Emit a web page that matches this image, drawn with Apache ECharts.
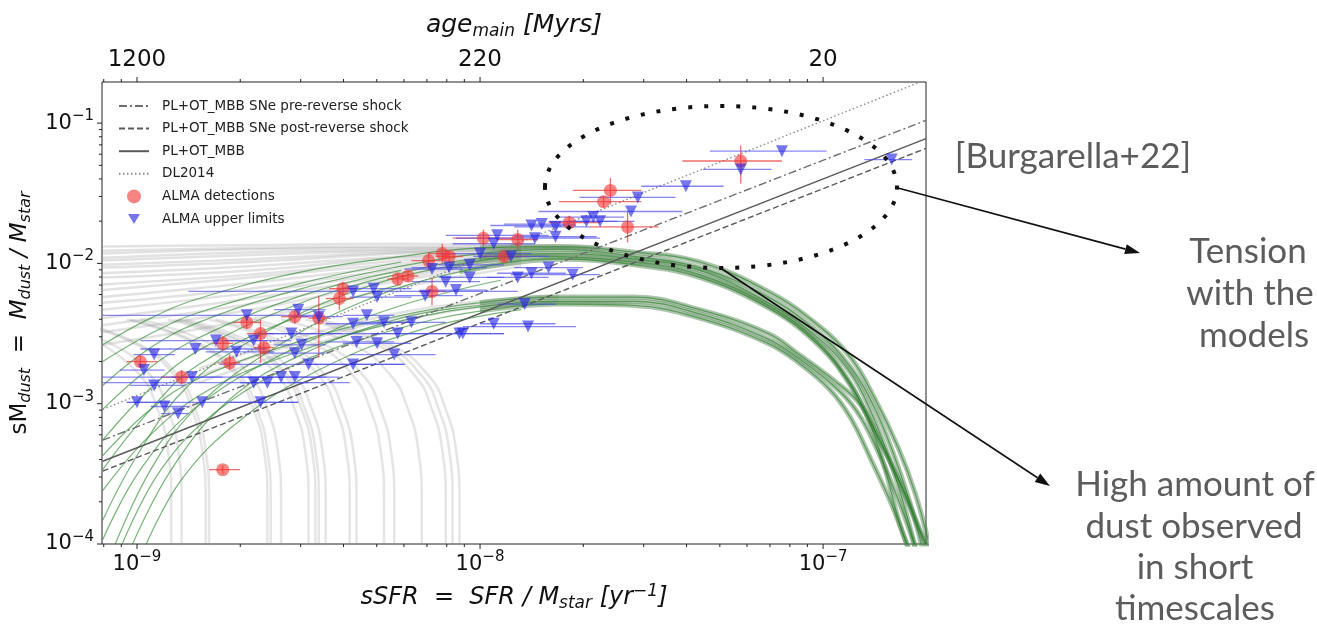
<!DOCTYPE html>
<html>
<head>
<meta charset="utf-8">
<script src="https://cdn.jsdelivr.net/npm/echarts@6/dist/echarts.min.js"></script>
<style>
  html, body { margin: 0; padding: 0; background: #fff; }
  #chart { width: 1317px; height: 624px; }
</style>
</head>
<body>
<div id="chart"></div>
<script>
// all values are log10 (x = sSFR [yr^-1], y = sMdust)

// axis limits
var xLimits = [-9.102, -6.70];
var yLimits = [-4, -0.707];

// tick positions
var majorTicksX = [1e-9, 1e-8, 1e-7];
var minorTicksX = [8e-10, 9e-10, 2e-9, 3e-9, 4e-9, 5e-9, 6e-9, 7e-9, 8e-9, 9e-9,
  2e-8, 3e-8, 4e-8, 5e-8, 6e-8, 7e-8, 8e-8, 9e-8];
var majorTicksY = [1e-4, 1e-3, 1e-2, 1e-1];
var minorTicksY = [2e-4, 3e-4, 4e-4, 5e-4, 6e-4, 7e-4, 8e-4, 9e-4,
  2e-3, 3e-3, 4e-3, 5e-3, 6e-3, 7e-3, 8e-3, 9e-3,
  2e-2, 3e-2, 4e-2, 5e-2, 6e-2, 7e-2, 8e-2, 9e-2];
// top axis: age of main stellar population
var ageTickExp = [-9, -8, -7];
var ageTickLabels = ['1200', '220', '20'];

// model predictions (straight lines)
var preShock = [[-9.10, -3.26], [-6.70, -0.98]];
var postShock = [[-9.10, -3.48], [-6.70, -1.18]];
var plOtMbb = [[-9.10, -3.41], [-6.70, -1.11]];
var dl2014 = [[-9.10, -3.04], [-6.70, -0.69]];

// grey model tracks, flat part on the left
var grayFlatTracks = [
  [[-9.10, -1.88], [-8.67, -1.87], [-8.23, -1.86], [-7.88, -1.87], [-7.65, -1.88]],
  [[-9.10, -1.91], [-8.67, -1.89], [-8.23, -1.88], [-7.88, -1.88], [-7.65, -1.89]],
  [[-9.10, -1.93], [-8.67, -1.90], [-8.23, -1.89], [-7.88, -1.89], [-7.65, -1.90]],
  [[-9.10, -1.96], [-8.67, -1.92], [-8.23, -1.90], [-7.88, -1.89]],
  [[-9.10, -1.98], [-8.67, -1.94], [-8.23, -1.91], [-7.88, -1.90]],
  [[-9.10, -2.01], [-8.67, -1.97], [-8.23, -1.92], [-7.88, -1.90]],
  [[-9.10, -2.03], [-8.67, -1.99], [-8.23, -1.93], [-7.88, -1.91]],
  [[-9.10, -2.07], [-8.67, -2.02], [-8.23, -1.95], [-7.88, -1.92]],
  [[-9.10, -2.10], [-8.67, -2.05], [-8.23, -1.96], [-7.88, -1.93]],
  [[-9.10, -2.15], [-8.67, -2.08], [-8.23, -1.98], [-7.88, -1.93]],
  [[-9.10, -2.19], [-8.67, -2.10], [-8.23, -2.00], [-7.88, -1.94]],
  [[-9.10, -2.24], [-8.67, -2.14], [-8.23, -2.02], [-7.88, -1.95]],
  [[-9.10, -2.28], [-8.67, -2.18], [-8.23, -2.04], [-7.88, -1.95]],
  [[-9.10, -2.33], [-8.67, -2.21], [-8.23, -2.06], [-7.88, -1.96]],
  [[-9.10, -2.39], [-8.67, -2.25], [-8.23, -2.08], [-7.88, -1.97]],
  [[-9.10, -2.44], [-8.67, -2.29], [-8.23, -2.10], [-7.88, -1.98]],
  [[-9.10, -2.49], [-8.67, -2.33], [-8.23, -2.12], [-7.88, -2.00]],
  [[-9.10, -2.58], [-8.67, -2.40], [-8.23, -2.17], [-7.88, -2.02]],
  [[-8.82, -2.75], [-8.52, -2.52], [-8.23, -2.35], [-8.00, -2.27], [-7.77, -2.23]],
  [[-8.82, -2.80], [-8.52, -2.56], [-8.23, -2.38], [-8.00, -2.29], [-7.77, -2.25]],
  [[-8.82, -2.85], [-8.52, -2.60], [-8.23, -2.41], [-8.00, -2.31], [-7.77, -2.27]]
];

// grey model tracks rising from the bottom
var grayRisingTracks = [
  [[-8.90, -4.04], [-8.90, -3.69], [-8.91, -3.33], [-8.94, -3.04], [-8.99, -2.80], [-9.10, -2.58]],
  [[-8.87, -4.04], [-8.87, -3.69], [-8.88, -3.33], [-8.91, -3.04], [-8.96, -2.80], [-9.07, -2.58], [-9.28, -2.40]],
  [[-8.80, -4.04], [-8.80, -3.69], [-8.81, -3.33], [-8.84, -3.04], [-8.89, -2.80], [-9.00, -2.58], [-9.21, -2.40]],
  [[-8.79, -4.04], [-8.79, -3.69], [-8.80, -3.33], [-8.83, -3.04], [-8.88, -2.80], [-8.99, -2.58], [-9.20, -2.40]],
  [[-8.62, -4.04], [-8.62, -3.69], [-8.63, -3.33], [-8.66, -3.04], [-8.71, -2.80], [-8.82, -2.58], [-9.03, -2.40]],
  [[-8.61, -4.04], [-8.61, -3.69], [-8.62, -3.33], [-8.65, -3.04], [-8.70, -2.80], [-8.81, -2.58], [-9.02, -2.40]],
  [[-8.58, -4.04], [-8.58, -3.69], [-8.59, -3.33], [-8.62, -3.04], [-8.67, -2.80], [-8.78, -2.58], [-8.99, -2.40]],
  [[-8.50, -4.04], [-8.50, -3.69], [-8.51, -3.33], [-8.54, -3.04], [-8.59, -2.80], [-8.70, -2.58], [-8.91, -2.40]],
  [[-8.48, -4.04], [-8.48, -3.69], [-8.49, -3.33], [-8.52, -3.04], [-8.57, -2.80], [-8.68, -2.58], [-8.89, -2.40]],
  [[-8.47, -4.04], [-8.47, -3.69], [-8.48, -3.33], [-8.51, -3.04], [-8.56, -2.80], [-8.67, -2.58], [-8.88, -2.40]],
  [[-8.45, -4.04], [-8.45, -3.69], [-8.46, -3.33], [-8.49, -3.04], [-8.54, -2.80], [-8.65, -2.58], [-8.86, -2.40]],
  [[-8.38, -4.04], [-8.38, -3.69], [-8.39, -3.33], [-8.42, -3.04], [-8.47, -2.80], [-8.58, -2.58], [-8.79, -2.40]],
  [[-8.36, -4.04], [-8.36, -3.69], [-8.37, -3.33], [-8.40, -3.04], [-8.45, -2.80], [-8.56, -2.58], [-8.77, -2.40]],
  [[-8.28, -4.04], [-8.28, -3.69], [-8.29, -3.33], [-8.32, -3.04], [-8.37, -2.80], [-8.48, -2.58], [-8.69, -2.40]],
  [[-8.25, -4.04], [-8.25, -3.69], [-8.26, -3.33], [-8.29, -3.04], [-8.34, -2.80], [-8.45, -2.58], [-8.66, -2.40]],
  [[-8.17, -4.04], [-8.17, -3.69], [-8.18, -3.33], [-8.21, -3.04], [-8.26, -2.80], [-8.37, -2.58], [-8.58, -2.40]],
  [[-8.10, -4.04], [-8.10, -3.69], [-8.11, -3.33], [-8.14, -3.04], [-8.19, -2.80], [-8.30, -2.58], [-8.51, -2.40]],
  [[-8.08, -4.04], [-8.08, -3.69], [-8.09, -3.33], [-8.12, -3.04], [-8.17, -2.80], [-8.28, -2.58], [-8.49, -2.40]],
  [[-8.06, -4.04], [-8.06, -3.69], [-8.07, -3.33], [-8.10, -3.04], [-8.15, -2.80], [-8.26, -2.58], [-8.47, -2.40]]
];

// green model tracks, upper band
var greenUpperTracks = [
  [[-9.10, -2.58], [-8.96, -2.39], [-8.82, -2.25], [-8.52, -2.06], [-8.23, -1.95], [-8.00, -1.89], [-7.77, -1.88], [-7.55, -1.92], [-7.36, -1.99], [-7.16, -2.20], [-7.02, -2.43], [-6.92, -2.67], [-6.85, -2.96], [-6.78, -3.32], [-6.73, -3.65], [-6.69, -4.01]],
  [[-9.10, -2.87], [-8.96, -2.60], [-8.82, -2.42], [-8.52, -2.18], [-8.23, -2.02], [-8.00, -1.93], [-7.77, -1.90], [-7.55, -1.95], [-7.36, -2.03], [-7.16, -2.24], [-7.02, -2.48], [-6.92, -2.74], [-6.85, -3.03], [-6.79, -3.39], [-6.74, -3.76], [-6.71, -4.04]],
  [[-9.10, -3.26], [-8.96, -2.89], [-8.82, -2.62], [-8.52, -2.28], [-8.23, -2.07], [-8.00, -1.96], [-7.77, -1.93], [-7.55, -1.97], [-7.36, -2.05], [-7.16, -2.28], [-7.02, -2.52], [-6.92, -2.78], [-6.86, -3.06], [-6.80, -3.44], [-6.76, -3.76], [-6.73, -4.04]],
  [[-9.10, -3.83], [-8.99, -3.33], [-8.85, -2.87], [-8.64, -2.51], [-8.38, -2.21], [-8.09, -2.02], [-7.83, -1.95], [-7.55, -1.99], [-7.36, -2.08], [-7.16, -2.30], [-7.02, -2.55], [-6.93, -2.82], [-6.87, -3.10], [-6.82, -3.46], [-6.78, -3.83], [-6.75, -4.04]],
  [[-9.07, -4.04], [-8.96, -3.47], [-8.82, -3.01], [-8.61, -2.62], [-8.35, -2.28], [-8.06, -2.06], [-7.77, -1.97], [-7.55, -2.01], [-7.36, -2.10], [-7.15, -2.33], [-7.01, -2.59], [-6.92, -2.87], [-6.85, -3.19], [-6.78, -3.54], [-6.72, -3.90], [-6.69, -4.04]]
];

// green model tracks, lower band
var greenLowerTracks = [
  [[-9.10, -3.37], [-8.96, -3.04], [-8.82, -2.82], [-8.52, -2.55], [-8.23, -2.37], [-8.00, -2.28], [-7.77, -2.24], [-7.55, -2.24], [-7.36, -2.33], [-7.16, -2.50], [-7.07, -2.65], [-6.97, -2.83], [-6.89, -3.01], [-6.83, -3.29], [-6.76, -3.65], [-6.70, -4.01]],
  [[-9.10, -3.62], [-8.96, -3.22], [-8.79, -2.90], [-8.52, -2.62], [-8.23, -2.41], [-8.00, -2.31], [-7.77, -2.27], [-7.55, -2.27], [-7.36, -2.36], [-7.16, -2.54], [-7.07, -2.68], [-6.97, -2.87], [-6.90, -3.06], [-6.84, -3.34], [-6.78, -3.69], [-6.73, -4.03]],
  [[-9.05, -4.04], [-8.93, -3.47], [-8.76, -3.04], [-8.52, -2.70], [-8.23, -2.46], [-8.00, -2.34], [-7.77, -2.29], [-7.55, -2.30], [-7.36, -2.39], [-7.16, -2.57], [-7.07, -2.71], [-6.98, -2.90], [-6.92, -3.10], [-6.86, -3.40], [-6.80, -3.72], [-6.75, -4.04]]
];

// green tracks fanning out at low sSFR
var greenFanTracks = [
  [[-9.10, -2.70], [-8.96, -2.50], [-8.82, -2.35], [-8.52, -2.14], [-8.23, -1.99]],
  [[-9.10, -3.04], [-8.96, -2.74], [-8.82, -2.53], [-8.52, -2.23], [-8.23, -2.05]],
  [[-9.10, -3.47], [-8.96, -3.04], [-8.82, -2.72], [-8.52, -2.37], [-8.23, -2.15]],
  [[-9.02, -4.04], [-8.90, -3.47], [-8.73, -2.97], [-8.52, -2.65], [-8.23, -2.39], [-8.00, -2.30]],
  [[-9.10, -3.97], [-8.99, -3.47], [-8.82, -3.01], [-8.52, -2.58], [-8.23, -2.30], [-7.94, -2.12]],
  [[-8.98, -4.04], [-8.87, -3.54], [-8.70, -3.12], [-8.47, -2.76], [-8.17, -2.47], [-7.88, -2.33]]
];

// ALMA detections: [x, y, xlo, xhi, ylo, yhi]
var almaDetections = [
  [-8.99, -2.70, -9.03, -8.94, -2.74, -2.66],
  [-8.87, -2.81, -8.93, -8.83, -2.86, -2.76],
  [-8.73, -2.71, -8.76, -8.70, -2.76, -2.65],
  [-8.75, -2.57, -8.78, -8.72, -2.62, -2.52],
  [-8.68, -2.42, -8.72, -8.64, -2.47, -2.37],
  [-8.64, -2.50, -8.68, -8.60, -2.71, -2.40],
  [-8.63, -2.60, -8.66, -8.60, -2.65, -2.56],
  [-8.54, -2.38, -8.58, -8.50, -2.43, -2.33],
  [-8.47, -2.39, -8.50, -8.44, -2.67, -2.23],
  [-8.41, -2.25, -8.45, -8.37, -2.33, -2.18],
  [-8.40, -2.18, -8.44, -8.36, -2.22, -2.13],
  [-8.24, -2.11, -8.27, -8.21, -2.15, -2.07],
  [-8.21, -2.09, -8.24, -8.18, -2.13, -2.05],
  [-8.15, -1.98, -8.20, -8.10, -2.05, -1.92],
  [-8.14, -2.20, -8.18, -8.10, -2.30, -2.10],
  [-8.11, -1.93, -8.15, -8.07, -2.00, -1.86],
  [-8.09, -1.95, -8.13, -8.05, -1.99, -1.91],
  [-7.99, -1.82, -8.08, -7.90, -1.88, -1.76],
  [-7.93, -1.95, -8.00, -7.86, -1.99, -1.91],
  [-7.89, -1.83, -7.95, -7.83, -1.90, -1.76],
  [-7.74, -1.71, -7.80, -7.65, -1.76, -1.66],
  [-7.62, -1.48, -7.73, -7.53, -1.58, -1.39],
  [-7.64, -1.56, -7.77, -7.53, -1.60, -1.52],
  [-7.57, -1.74, -7.68, -7.48, -1.85, -1.63],
  [-7.24, -1.27, -7.41, -7.12, -1.43, -1.16],
  [-8.75, -3.47, -8.79, -8.70, -3.50, -3.44]
];

// ALMA upper limits: [x, y, xlo, xhi]
var almaUpperLimits = [
  [-9.00, -2.99, -9.03, -8.93], [-8.98, -2.76, -9.05, -8.92], [-8.95, -2.65, -9.01, -8.89],
  [-8.95, -2.87, -9.02, -8.86], [-8.92, -3.02, -8.96, -8.85], [-8.88, -3.07, -8.93, -8.85],
  [-8.81, -2.99, -9.03, -8.53], [-8.64, -2.99, -8.73, -8.53], [-8.83, -2.61, -8.99, -8.62],
  [-8.77, -2.55, -8.99, -8.62], [-8.71, -2.63, -8.80, -8.60], [-8.68, -2.37, -9.10, -8.46],
  [-8.66, -2.55, -8.75, -8.55], [-8.53, -2.33, -8.60, -8.45], [-8.55, -2.50, -8.65, -8.40],
  [-8.52, -2.58, -8.60, -8.45], [-8.54, -2.64, -8.62, -8.45], [-8.50, -2.72, -8.76, -8.22],
  [-8.37, -2.72, -8.50, -8.22], [-8.66, -2.85, -9.10, -8.38], [-8.62, -2.85, -8.70, -8.50],
  [-8.58, -2.81, -8.70, -8.45], [-8.54, -2.81, -9.10, -8.41], [-8.84, -2.81, -8.90, -8.75],
  [-8.47, -2.38, -8.55, -8.40], [-8.37, -2.43, -8.45, -8.28], [-8.36, -2.56, -8.45, -8.25],
  [-8.33, -2.37, -8.40, -8.25], [-8.30, -2.57, -8.40, -8.20], [-8.28, -2.42, -8.36, -8.20],
  [-8.25, -2.65, -8.38, -8.13], [-8.24, -2.50, -8.32, -8.15], [-8.20, -2.42, -8.30, -8.10],
  [-8.37, -2.20, -8.85, -7.89], [-8.31, -2.18, -8.40, -8.20], [-8.30, -2.24, -8.38, -8.20],
  [-8.16, -2.23, -8.25, -8.05], [-8.14, -2.04, -8.22, -8.05], [-8.10, -2.13, -8.20, -8.00],
  [-8.07, -2.19, -8.15, -7.98], [-8.09, -2.03, -8.20, -7.98], [-8.03, -2.10, -8.12, -7.93],
  [-8.03, -2.01, -8.12, -7.93], [-8.06, -2.50, -8.63, -7.93], [-8.05, -2.50, -8.15, -7.93],
  [-7.96, -2.43, -8.00, -7.78], [-8.00, -1.93, -8.12, -7.85], [-7.95, -1.80, -8.10, -7.80],
  [-7.96, -1.86, -8.08, -7.84], [-7.91, -1.95, -8.02, -7.80], [-7.89, -2.10, -7.98, -7.80],
  [-7.85, -2.07, -7.95, -7.75], [-7.80, -2.03, -7.90, -7.70], [-7.73, -2.08, -7.91, -7.65],
  [-7.87, -2.29, -7.95, -7.78], [-7.86, -2.45, -8.05, -7.72], [-7.85, -1.73, -7.97, -7.72],
  [-7.82, -1.72, -7.93, -7.72], [-7.78, -1.74, -7.90, -7.68], [-7.84, -1.82, -8.07, -7.65],
  [-7.78, -1.81, -7.90, -7.66], [-7.69, -1.70, -7.80, -7.60], [-7.67, -1.67, -7.78, -7.58],
  [-7.65, -1.70, -7.75, -7.55], [-7.56, -1.63, -7.83, -7.41], [-7.54, -1.53, -7.71, -7.43],
  [-7.40, -1.45, -7.53, -7.29], [-7.24, -1.33, -7.35, -7.15], [-7.12, -1.20, -7.33, -6.99],
  [-6.80, -1.26, -6.88, -6.74]
];

var names = ['PL+OT_MBB SNe pre-reverse shock', 'PL+OT_MBB SNe post-reverse shock',
  'PL+OT_MBB', 'DL2014', 'ALMA detections', 'ALMA upper limits'];

function pw(v) { return Math.pow(10, v); }
function pt(p) { return [pw(p[0]), pw(p[1])]; }

var X_MIN = pw(xLimits[0]), X_MAX = pw(xLimits[1]);
var Y_MIN = pw(yLimits[0]), Y_MAX = pw(yLimits[1]);

var FONT = 'DejaVu Sans';
var supRich = {
  b: { fontFamily: FONT, fontSize: 21, color: '#111' },
  s: { fontFamily: FONT, fontSize: 15, color: '#111', padding: [0, 0, 14, 0] }
};

function powLabel(v) {
  var e = Math.log10(v);
  var r = Math.round(e);
  if (Math.abs(e - r) > 1e-6) return '';
  return '{b|10}{s|\u2212' + Math.abs(r) + '}';
}
function ageLabel(v) {
  var e = Math.log10(v);
  var r = Math.round(e);
  if (Math.abs(e - r) > 1e-6) return '';
  var i = ageTickExp.indexOf(r);
  return i < 0 ? '' : ageTickLabels[i];
}

var series = [];

// model tracks
grayFlatTracks.forEach(function (c) {
  series.push({ type: 'line', data: c.map(pt), symbol: 'none', smooth: 0.4, silent: true, z: 1,
    lineStyle: { color: 'rgba(150,150,150,0.28)', width: 2.5 } });
});
grayRisingTracks.forEach(function (c) {
  series.push({ type: 'line', data: c.map(pt), symbol: 'none', smooth: 0.5, silent: true, z: 1,
    lineStyle: { color: 'rgba(150,150,150,0.25)', width: 2.5 } });
});
greenUpperTracks.concat(greenLowerTracks).forEach(function (c) {
  series.push({ type: 'line', data: c.slice(5).map(pt), symbol: 'none', smooth: 0.4, silent: true, z: 2,
    lineStyle: { color: 'rgba(90,135,90,0.5)', width: 5 } });
});
greenUpperTracks.concat(greenLowerTracks, greenFanTracks).forEach(function (c) {
  series.push({ type: 'line', data: c.map(pt), symbol: 'none', smooth: 0.4, silent: true, z: 3,
    lineStyle: { color: 'rgba(30,130,30,0.6)', width: 1.2 } });
});

// straight model lines
function modelLine(name, d, color, type) {
  return { name: name, type: 'line', data: d.map(pt), symbol: 'none', silent: true, z: 4,
    itemStyle: { color: color },
    lineStyle: { color: color, width: 1.4, type: type } };
}
series.push(modelLine(names[0], preShock, '#6e6e6e', [8, 3, 2, 3]));
series.push(modelLine(names[1], postShock, '#5a5a5a', [6, 3]));
series.push(modelLine(names[2], plOtMbb, '#5a5a5a', 'solid'));
series.push(modelLine(names[3], dl2014, '#8a8a8a', [1.5, 2.5]));

// error bars
function errBars(data, color, withY) {
  return {
    type: 'custom', silent: true, z: 5,
    data: data.map(function (d) { return d.map(pw); }),
    encode: { x: 0, y: 1 },
    renderItem: function (params, api) {
      var y = api.value(1), x = api.value(0);
      var l = api.coord([api.value(2), y]);
      var r = api.coord([api.value(3), y]);
      var kids = [{ type: 'line', shape: { x1: l[0], y1: l[1], x2: r[0], y2: r[1] },
        style: { stroke: color, lineWidth: 1.3 } }];
      if (withY) {
        var b = api.coord([x, api.value(4)]);
        var t = api.coord([x, api.value(5)]);
        kids.push({ type: 'line', shape: { x1: b[0], y1: b[1], x2: t[0], y2: t[1] },
          style: { stroke: color, lineWidth: 1.3 } });
      }
      return { type: 'group', children: kids };
    }
  };
}
series.push(errBars(almaDetections, 'rgba(235,60,60,0.75)', true));
series.push(errBars(almaUpperLimits, 'rgba(70,70,235,0.65)', false));

series.push({
  name: names[4], type: 'scatter', z: 6, symbol: 'circle', symbolSize: 13,
  data: almaDetections.map(function (d) { return [pw(d[0]), pw(d[1])]; }),
  itemStyle: { color: 'rgba(245,50,50,0.75)' }
});
series.push({
  name: names[5], type: 'scatter', z: 6, symbol: 'triangle', symbolSize: 12, symbolRotate: 180,
  data: almaUpperLimits.map(function (d) { return [pw(d[0]), pw(d[1])]; }),
  itemStyle: { color: 'rgba(35,35,230,0.78)' }
});

// ticks (matplotlib style, outward)
function tickSeriesX(vals, len) {
  return {
    type: 'custom', silent: true, z: 7, clip: false,
    data: vals.map(function (v) { return [v, Y_MIN]; }),
    renderItem: function (params, api) {
      var b = api.coord([api.value(0), Y_MIN]);
      var t = api.coord([api.value(0), Y_MAX]);
      return { type: 'group', children: [
        { type: 'line', shape: { x1: b[0], y1: b[1], x2: b[0], y2: b[1] + len }, style: { stroke: '#222', lineWidth: 1 } },
        { type: 'line', shape: { x1: t[0], y1: t[1], x2: t[0], y2: t[1] - len }, style: { stroke: '#222', lineWidth: 1 } }
      ] };
    }
  };
}
function tickSeriesY(vals, len) {
  return {
    type: 'custom', silent: true, z: 7, clip: false,
    data: vals.map(function (v) { return [X_MIN, v]; }),
    renderItem: function (params, api) {
      var p = api.coord([X_MIN, api.value(1)]);
      return { type: 'line', shape: { x1: p[0], y1: p[1], x2: p[0] - len, y2: p[1] }, style: { stroke: '#222', lineWidth: 1 } };
    }
  };
}
series.push(tickSeriesX(majorTicksX, 5));
series.push(tickSeriesX(minorTicksX, 3));
series.push(tickSeriesY(majorTicksY, 5));
series.push(tickSeriesY(minorTicksY, 3));

// annotation arrows
function arrow(x1, y1, x2, y2) {
  var a = Math.atan2(y2 - y1, x2 - x1), L = 15, W = 5;
  var bx = x2 - L * Math.cos(a), by = y2 - L * Math.sin(a);
  return [
    { type: 'line', shape: { x1: x1, y1: y1, x2: bx, y2: by }, style: { stroke: '#111', lineWidth: 1.6 }, z: 20 },
    { type: 'polygon', shape: { points: [[x2, y2],
      [bx + W * Math.sin(a), by - W * Math.cos(a)], [bx - W * Math.sin(a), by + W * Math.cos(a)]] },
      style: { fill: '#111' }, z: 20 }
  ];
}
function note(text, x, y) {
  return { type: 'text', z: 20, style: { text: text, x: x, y: y, align: 'center', verticalAlign: 'middle',
    font: '35px Lato', fill: '#5c5c5c' } };
}

var graphics = [
  { type: 'ellipse', z: 20, shape: { cx: 721, cy: 187, rx: 176, ry: 81 },
    style: { fill: 'none', stroke: '#111', lineWidth: 4, lineDash: [4, 12] } }
].concat(arrow(898, 188, 1140, 253), arrow(722, 269, 1050, 486), [
  note('[Burgarella+22]', 1073, 157),
  note('Tension', 1248, 252), note('with the', 1250, 294), note('models', 1254, 336),
  note('High amount of', 1195, 485), note('dust observed', 1194, 527),
  note('in short', 1195, 568), note('timescales', 1195, 609)
]);

var hidden = { opacity: 0 };
var myChart = echarts.init(document.getElementById('chart'));
var option = {
  animation: false,
  backgroundColor: '#fff',
  textStyle: { fontFamily: FONT },
  grid: { left: 102, top: 82, right: 391, bottom: 80, show: true, borderColor: '#222', borderWidth: 1 },
  legend: {
    data: [
      { name: names[0], itemStyle: hidden },
      { name: names[1], itemStyle: hidden },
      { name: names[2], itemStyle: hidden },
      { name: names[3], itemStyle: hidden },
      { name: names[4] },
      { name: names[5], icon: 'path://M0,0 M30,14 M9,2 L21,2 L15,12 Z' }
    ],
    orient: 'vertical', left: 113, top: 94, itemWidth: 30, itemHeight: 14, itemGap: 8.6,
    selectedMode: false,
    textStyle: { fontFamily: FONT, fontSize: 13.5, color: '#222', padding: [0, 0, 0, 8] }
  },
  xAxis: [{
    type: 'log', logBase: 10, min: X_MIN, max: X_MAX, position: 'bottom',
    axisLine: { show: false }, axisTick: { show: false }, splitLine: { show: false },
    axisLabel: { formatter: powLabel, rich: supRich, margin: 6, showMinLabel: true, showMaxLabel: true },
    name: '{i|sSFR  =  SFR / M}{sub|star}{i| [yr}{sup|\u22121}{i|]}', nameLocation: 'middle', nameGap: 39,
    nameTextStyle: { rich: {
      i: { fontFamily: FONT, fontStyle: 'italic', fontSize: 24, color: '#111' },
      sub: { fontFamily: FONT, fontStyle: 'italic', fontSize: 17, color: '#111', padding: [12, 0, 0, 0] },
      sup: { fontFamily: FONT, fontStyle: 'italic', fontSize: 17, color: '#111', padding: [0, 0, 12, 0] }
    } }
  }, {
    type: 'log', logBase: 10, min: X_MIN, max: X_MAX, position: 'top',
    axisLine: { show: false }, axisTick: { show: false }, splitLine: { show: false },
    axisLabel: { formatter: ageLabel, fontFamily: FONT, fontSize: 23, color: '#111', margin: 10 },
    name: '{i|age}{sub|main}{i| [Myrs]}', nameLocation: 'middle', nameGap: 42,
    nameTextStyle: { rich: {
      i: { fontFamily: FONT, fontStyle: 'italic', fontSize: 25, color: '#111' },
      sub: { fontFamily: FONT, fontStyle: 'italic', fontSize: 17, color: '#111', padding: [12, 0, 0, 0] }
    } }
  }],
  yAxis: {
    type: 'log', logBase: 10, min: Y_MIN, max: Y_MAX,
    axisLine: { show: false }, axisTick: { show: false }, splitLine: { show: false },
    axisLabel: { formatter: powLabel, rich: supRich, margin: 8 },
    name: '{r|sM}{sub|dust}{i|  =  M}{sub|dust}{i| / M}{sub|star}', nameLocation: 'middle', nameGap: 53, nameRotate: 90,
    nameTextStyle: { rich: {
      r: { fontFamily: FONT, fontSize: 23, color: '#111' },
      i: { fontFamily: FONT, fontStyle: 'italic', fontSize: 23, color: '#111' },
      sub: { fontFamily: FONT, fontStyle: 'italic', fontSize: 16, color: '#111', padding: [12, 0, 0, 0] }
    } }
  },
  series: series,
  graphic: graphics
};
myChart.setOption(option);
</script>
</body>
</html>
